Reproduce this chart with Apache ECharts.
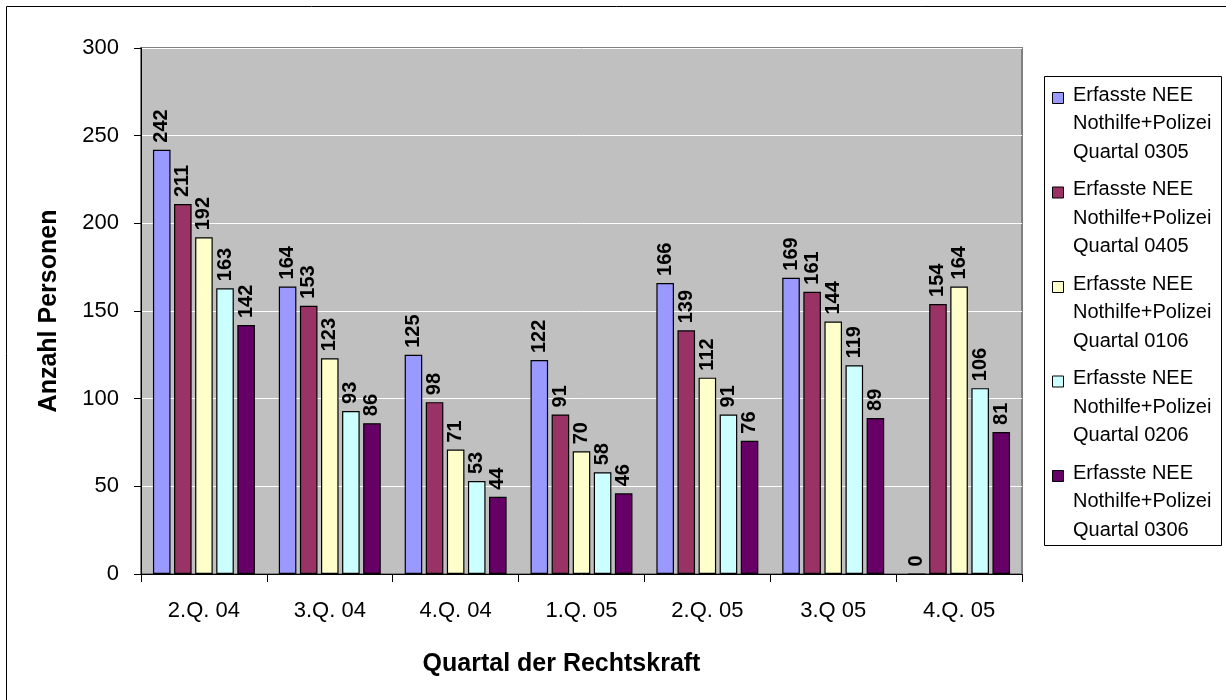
<!DOCTYPE html>
<html>
<head>
<meta charset="utf-8">
<script src="https://cdn.jsdelivr.net/npm/echarts@6/dist/echarts.min.js"></script>
<style>
  html, body { margin: 0; padding: 0; background: #fff; }
  #chart { width: 1226px; height: 700px; }
</style>
</head>
<body>
<div id="chart"></div>
<script>
// Quarters in which the decisions became final
const categories = ['2.Q. 04', '3.Q. 04', '4.Q. 04', '1.Q. 05', '2.Q. 05', '3.Q 05', '4.Q. 05'];

// Recorded persons per survey quarter
const seriesNames = [
  'Erfasste NEE\nNothilfe+Polizei\nQuartal 0305',
  'Erfasste NEE\nNothilfe+Polizei\nQuartal 0405',
  'Erfasste NEE\nNothilfe+Polizei\nQuartal 0106',
  'Erfasste NEE\nNothilfe+Polizei\nQuartal 0206',
  'Erfasste NEE\nNothilfe+Polizei\nQuartal 0306'
];
const q0305 = [242, 164, 125, 122, 166, 169, 0];
const q0405 = [211, 153, 98, 91, 139, 161, 154];
const q0106 = [192, 123, 71, 70, 112, 144, 164];
const q0206 = [163, 93, 53, 58, 91, 119, 106];
const q0306 = [142, 86, 44, 46, 76, 89, 81];

const yTicks = [0, 50, 100, 150, 200, 250, 300];

const colors = ['#9999FF', '#993366', '#FFFFCC', '#CCFFFF', '#660066'];
const seriesData = [q0305, q0405, q0106, q0206, q0306];

const FONT = '"Liberation Sans", Arial, sans-serif';

const chart = echarts.init(document.getElementById('chart'), null, { renderer: 'canvas' });

const series = seriesData.map((data, i) => ({
  name: seriesNames[i],
  type: 'bar',
  data: data,
  barGap: '20%',
  barCategoryGap: '19%',
  itemStyle: { color: colors[i], borderColor: '#000', borderWidth: 1.2 },
  label: {
    show: true,
    position: 'top',
    rotate: 90,
    align: 'left',
    verticalAlign: 'middle',
    distance: 7,
    color: '#000',
    fontFamily: FONT,
    fontWeight: 'bold',
    fontSize: 20
  }
}));

// Legend box drawn from the series names and colours
const legendGraphics = [{
  type: 'rect',
  shape: { x: 1044.5, y: 76.5, width: 177, height: 469 },
  style: { fill: '#fff', stroke: '#000', lineWidth: 1 },
  z: 10
}];
seriesNames.forEach((name, i) => {
  const top = 92 + i * 94.5;
  legendGraphics.push({
    type: 'rect',
    shape: { x: 1052.5, y: top + 0.5, width: 11, height: 11 },
    style: { fill: colors[i], stroke: '#000', lineWidth: 1 },
    z: 11
  });
  legendGraphics.push({
    type: 'text',
    x: 1073,
    y: top - 11,
    style: {
      text: name,
      fill: '#000',
      font: '20px ' + FONT,
      lineHeight: 28.5,
      textVerticalAlign: 'top'
    },
    z: 11
  });
});

// Outer chart frame
legendGraphics.push({
  type: 'rect',
  shape: { x: 6.5, y: 6.5, width: 1300, height: 800 },
  style: { fill: 'none', stroke: '#000', lineWidth: 1 },
  z: 0,
  silent: true
});

chart.setOption({
  backgroundColor: '#fff',
  animation: false,
  color: colors,
  grid: {
    left: 141,
    right: 204,
    top: 48,
    bottom: 126,
    show: true,
    backgroundColor: '#C0C0C0',
    borderColor: '#808080',
    borderWidth: 2
  },
  xAxis: {
    type: 'category',
    data: categories,
    name: 'Quartal der Rechtskraft',
    nameLocation: 'middle',
    nameGap: 78,
    nameTextStyle: { fontFamily: FONT, fontWeight: 'bold', fontSize: 25, color: '#000', padding: [0, 40, 0, 0] },
    axisLine: { show: true, lineStyle: { color: '#000', width: 1 } },
    axisTick: { show: true, length: 8, lineStyle: { color: '#000' } },
    axisLabel: { fontFamily: FONT, fontSize: 22, color: '#000', margin: 26 },
    splitLine: { show: false }
  },
  yAxis: {
    type: 'value',
    min: yTicks[0],
    max: yTicks[yTicks.length - 1],
    interval: yTicks[1] - yTicks[0],
    name: 'Anzahl Personen',
    nameLocation: 'middle',
    nameGap: 79,
    nameTextStyle: { fontFamily: FONT, fontWeight: 'bold', fontSize: 25, color: '#000' },
    axisLine: { show: true, lineStyle: { color: '#000', width: 1 } },
    axisTick: { show: true, length: 7, lineStyle: { color: '#000' } },
    axisLabel: { fontFamily: FONT, fontSize: 22, color: '#000', margin: 22 },
    splitLine: { show: true, lineStyle: { color: '#FFFFFF', width: 1 } }
  },
  series: series,
  graphic: legendGraphics
});
</script>
</body>
</html>
